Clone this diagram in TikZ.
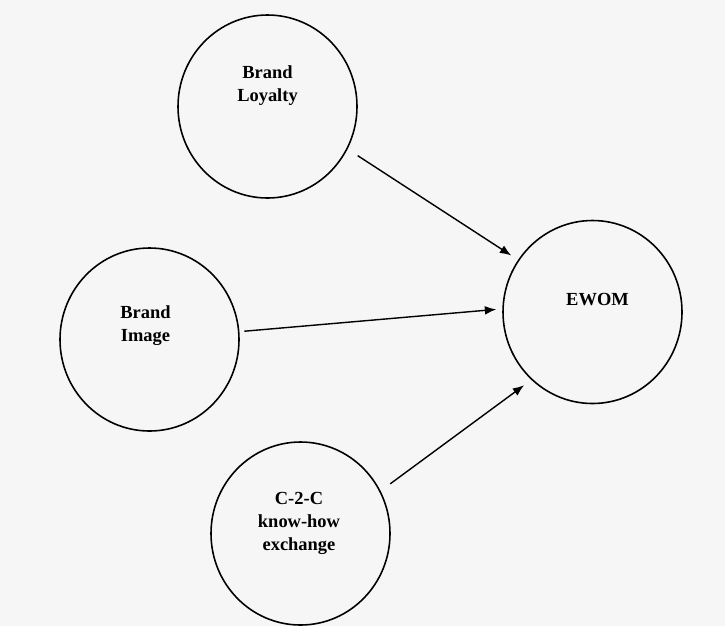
\documentclass[tikz,border=0pt]{standalone}
\usepackage{fontspec}
\setmainfont{Liberation Serif}
\usetikzlibrary{shapes.geometric,arrows.meta}
\definecolor{paper}{RGB}{246,246,246}
\begin{document}
\begin{tikzpicture}[
	construct/.style={ellipse, draw, line width=0.9pt, minimum width=3.58cm, minimum height=3.66cm},
	caption/.style={align=center, font=\fontsize{10.5}{13}\selectfont\bfseries},
	link/.style={-{Latex[length=6.5pt,width=5pt]}, line width=0.8pt}
	]
	\fill[paper] (0,0) rectangle (14.5,-12.52);
	\useasboundingbox (0,0) rectangle (14.5,-12.52);
	\node[construct] (loyalty) at (5.35,-2.13) {};
	\node[construct] (image) at (2.99,-6.79) {};
	\node[construct] (ewom) at (11.85,-6.24) {};
	\node[construct] (ctoc) at (6.01,-10.67) {};
	\node[caption] (loyaltytxt) at ([yshift=0.42cm]loyalty.center) {Brand\\Loyalty};
	\node[caption] (imagetxt) at ([xshift=-0.08cm,yshift=0.28cm]image.center) {Brand\\Image};
	\node[caption] (ewomtxt) at ([xshift=0.1cm,yshift=0.24cm]ewom.center) {EWOM};
	\node[caption] (ctoctxt) at ([xshift=-0.03cm,yshift=0.2cm]ctoc.center) {C-2-C\\know-how\\exchange};
	\draw[link, shorten <=0.24cm, shorten >=0.16cm] (loyalty.-28) -- (ewom.145);
	\draw[link, shorten <=0.1cm, shorten >=0.12cm] (image.5.5) -- (ewom.178.8);
	\draw[link, shorten <=0.24cm, shorten >=0.18cm] (ctoc.28) -- (ewom.-132);
\end{tikzpicture}
\end{document}
